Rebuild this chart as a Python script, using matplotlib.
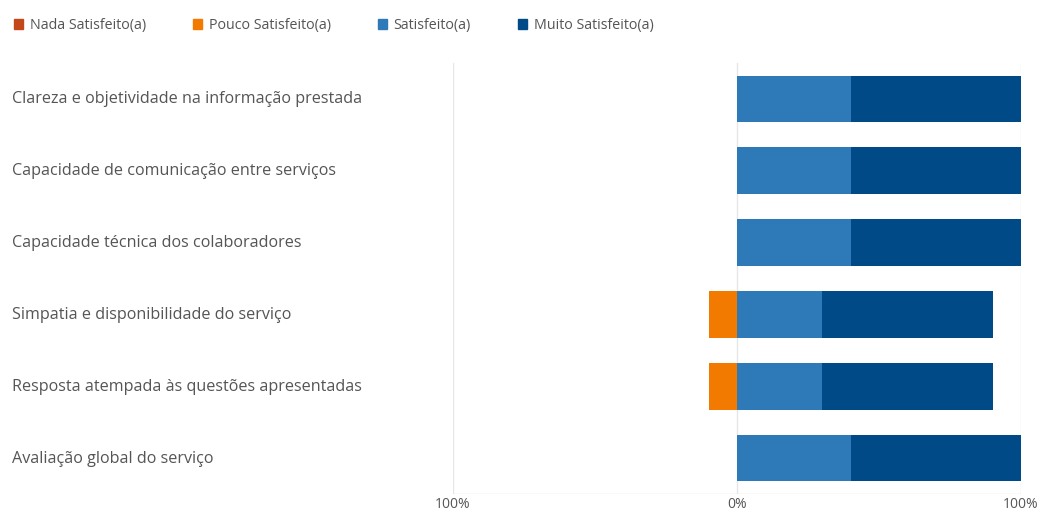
import numpy as np
import matplotlib.pyplot as plt
from matplotlib.patches import Patch

plt.rcParams['font.family'] = ['Open Sans', 'DejaVu Sans']

categories = ['Clareza e objetividade na informação prestada',
              'Capacidade de comunicação entre serviços',
              'Capacidade técnica dos colaboradores',
              'Simpatia e disponibilidade do serviço',
              'Resposta atempada às questões apresentadas',
              'Avaliação global do serviço']
nada = [0, 0, 0, 0, 0, 0]
pouco = [0, 0, 0, 10, 10, 0]
satisfeito = [40, 40, 40, 30, 30, 40]
muito = [60, 60, 60, 60, 60, 60]

series_names = ['Nada Satisfeito(a)', 'Pouco Satisfeito(a)', 'Satisfeito(a)', 'Muito Satisfeito(a)']
colors = ['#C4461B', '#F27A00', '#2E7AB8', '#004B87']
txt = '#555555'

fig = plt.figure(figsize=(10.49, 5.13), dpi=100)
ax = fig.add_axes([453/1049, 1-494/513, (1021-453)/1049, (494-63)/513])

y = np.arange(len(categories))
nada = np.array(nada); pouco = np.array(pouco)
satisfeito = np.array(satisfeito); muito = np.array(muito)
h = 0.65

# negatives go left of zero
ax.barh(y, -pouco, height=h, color=colors[1])
ax.barh(y, -nada, left=-pouco, height=h, color=colors[0])
ax.barh(y, satisfeito, height=h, color=colors[2])
ax.barh(y, muito, left=satisfeito, height=h, color=colors[3])

ax.set_xlim(-100, 100)
ax.set_ylim(len(categories) - 0.5, -0.5)
for xv in [-100, 0, 100]:
    ax.axvline(xv, color='#E6E6E6', lw=1, zorder=0)
ax.axhline(len(categories) - 0.5, color='#E0E0E0', lw=1)
for s in ax.spines.values():
    s.set_visible(False)
ax.set_xticks([-100, 0, 100])
ax.set_xticklabels(['100%', '0%', '100%'], color=txt, fontsize=10)
ax.tick_params(length=0, pad=2)
ax.set_yticks([])

for i, c in enumerate(categories):
    fig.text(12/1049, 1-(99+72*i)/513, c, ha='left', va='center', fontsize=11.6, color=txt)

handles = [Patch(color=c) for c in colors]
fig.legend(handles, series_names, loc='upper left', bbox_to_anchor=(0.001, 0.99), ncol=4,
           frameon=False, fontsize=10.3, labelcolor=txt, handlelength=0.6, handleheight=0.6,
           handletextpad=0.5, columnspacing=3.3)

fig.savefig('out.png', dpi=100)
